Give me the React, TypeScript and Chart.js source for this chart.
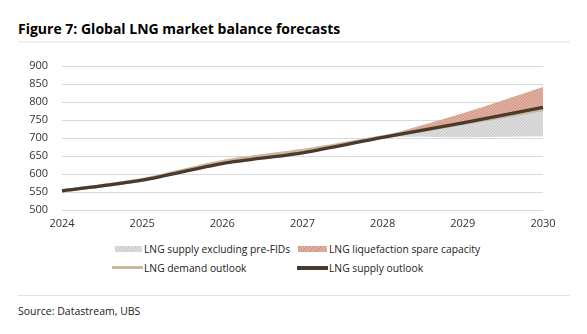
import React, { useEffect, useRef } from "react";
import { Chart, registerables } from "chart.js";

Chart.register(...registerables);

const categories = ["2024", "2025", "2026", "2027", "2028", "2029", "2030"];
const supplyOutlook = [553, 583, 629, 659, 702, 742, 785];
const demandOutlook = [553, 584, 634, 665, 703, 740, 779];
const areaBase = [null, null, null, 659, 700, 702, 705];
const supplyExclPreFID = [null, null, null, 659, 702, 741, 774];
const spareCapacityTop = [null, null, null, 659, 706, 769, 842];
const yTicks = [500, 550, 600, 650, 700, 750, 800, 850, 900];

const FONT = "'Open Sans', 'Noto Sans', sans-serif";

function makePattern(bg: string, fg: string) {
  const c = document.createElement("canvas");
  c.width = 3;
  c.height = 3;
  const ctx = c.getContext("2d")!;
  ctx.fillStyle = bg;
  ctx.fillRect(0, 0, 3, 3);
  ctx.fillStyle = fg;
  for (let i = 0; i < 3; i++) ctx.fillRect(i, 2 - i, 1, 1);
  return ctx.createPattern(c, "repeat")!;
}

export default function App() {
  const ref = useRef<HTMLCanvasElement>(null);
  useEffect(() => {
    const greyPat = makePattern("#dddddd", "#cacaca");
    const redPat = makePattern("#e2b0a0", "#d09584");
    const chart = new Chart(ref.current!, {
      type: "line",
      data: {
        labels: categories,
        datasets: [
          {
            label: "LNG supply outlook",
            data: supplyOutlook,
            borderColor: "#4a3a2e",
            borderWidth: 3.3,
            pointRadius: 0,
            tension: 0.3,
            fill: false,
          },
          {
            label: "LNG demand outlook",
            data: demandOutlook,
            borderColor: "#cbb89c",
            borderWidth: 3.5,
            pointRadius: 0,
            tension: 0.3,
            fill: false,
          },
          {
            label: "base",
            data: areaBase,
            borderWidth: 0,
            borderColor: "rgba(0,0,0,0)",
            pointRadius: 0,
            tension: 0.3,
            fill: false,
          },
          {
            label: "LNG supply excluding pre-FIDs",
            data: supplyExclPreFID,
            borderWidth: 0,
            borderColor: "rgba(0,0,0,0)",
            backgroundColor: greyPat,
            pointRadius: 0,
            tension: 0.3,
            fill: "-1",
          },
          {
            label: "LNG liquefaction spare capacity",
            data: spareCapacityTop,
            borderWidth: 0,
            borderColor: "rgba(0,0,0,0)",
            backgroundColor: redPat,
            pointRadius: 0,
            tension: 0.3,
            fill: "-1",
          },
        ],
      },
      options: {
        responsive: false,
        animation: false,
        devicePixelRatio: 1,
        layout: { padding: { top: 66, left: 0, right: 44, bottom: 10 } },
        plugins: { legend: { display: false }, tooltip: { enabled: false } },
        scales: {
          x: {
            grid: { display: false, drawTicks: false },
            border: { display: false },
            ticks: { padding: 7, color: "#333", font: { family: FONT, size: 11 }, maxRotation: 0 },
            afterFit: (s: any) => { s.height = 20; },
          },
          y: {
            min: 500,
            max: 900,
            afterBuildTicks: (s: any) => { s.ticks = yTicks.map((v) => ({ value: v })); },
            grid: { color: "#d9d9d9", lineWidth: 1, drawTicks: false },
            border: { display: false },
            ticks: { padding: 14, color: "#333", font: { family: FONT, size: 11 } },
            afterFit: (s: any) => { s.width = 62; },
          },
        },
      },
    });
    return () => chart.destroy();
  }, []);

  const txt: React.CSSProperties = { position: "absolute", fontFamily: FONT, fontSize: 10.3, color: "#222", whiteSpace: "nowrap", lineHeight: "14px" };
  const hatchGrey = "repeating-linear-gradient(-45deg, #cacaca 0 1px, #dddddd 1px 2.5px)";
  const hatchRed = "repeating-linear-gradient(-45deg, #d09584 0 1px, #e2b0a0 1px 2.5px)";

  return (
    <div style={{ position: "fixed", left: 0, top: 0, width: 587, height: 334, background: "#fff", overflow: "hidden" }}>
      <div style={{ ...txt, left: 18, top: 19, fontSize: 14, fontWeight: 700, color: "#000", lineHeight: "20px" }}>
        Figure 7: Global LNG market balance forecasts
      </div>
      <div style={{ position: "absolute", left: 18, top: 41, width: 552, height: 2, background: "#f0f0f0" }} />
      <canvas ref={ref} width={587} height={240} style={{ position: "absolute", left: 0, top: 0, width: 587, height: 240 }} />
      <div style={{ position: "absolute", left: 115, top: 246, width: 27, height: 6, background: hatchGrey }} />
      <div style={{ ...txt, left: 144, top: 242 }}>LNG supply excluding pre-FIDs</div>
      <div style={{ position: "absolute", left: 298, top: 246, width: 29, height: 6, background: hatchRed }} />
      <div style={{ ...txt, left: 329, top: 242 }}>LNG liquefaction spare capacity</div>
      <div style={{ position: "absolute", left: 112, top: 266, width: 31, height: 3, background: "#cbb89c" }} />
      <div style={{ ...txt, left: 144, top: 261 }}>LNG demand outlook</div>
      <div style={{ position: "absolute", left: 297, top: 266, width: 31, height: 4, background: "#4a3a2e" }} />
      <div style={{ ...txt, left: 329, top: 261 }}>LNG supply outlook</div>
      <div style={{ position: "absolute", left: 18, top: 295, width: 552, height: 1, background: "#e3e3e3" }} />
      <div style={{ ...txt, left: 18, top: 304, fontSize: 10.5 }}>Source: Datastream, UBS</div>
    </div>
  );
}
